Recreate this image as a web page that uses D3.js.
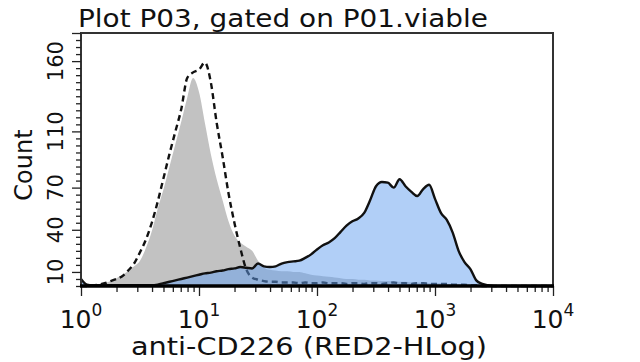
<!DOCTYPE html>
<html><head><meta charset="utf-8">
<script src="https://cdn.jsdelivr.net/npm/d3@7"></script>
<style>body{margin:0;background:#fff} svg{display:block} text{font-family:"DejaVu Sans",Verdana,sans-serif;fill:#111}</style>
</head><body><svg id="c" width="640" height="362"></svg>
<script>
// bin centres, log10 of RED2-HLog intensity
const binLog = [0.00,0.05,0.10,0.15,0.20,0.25,0.30,0.35,0.40,0.45,0.50,0.55,0.60,0.65,0.70,0.75,0.80,0.85,0.90,0.95,
1.00,1.05,1.10,1.15,1.20,1.25,1.30,1.35,1.40,1.45,1.50,1.55,1.60,1.65,1.70,1.75,1.80,1.85,1.90,1.95,
2.00,2.05,2.10,2.15,2.20,2.25,2.30,2.35,2.40,2.45,2.50,2.55,2.60,2.65,2.70,2.75,2.80,2.85,2.90,2.95,
3.00,3.05,3.10,3.15,3.20,3.25,3.30,3.35,3.40,3.45,3.50,3.55,3.60,3.65,3.70,3.75,3.80,3.85,3.90,3.95,4.00];
// grey filled control histogram
const controlFilled = [3,1.5,1,1.5,2,3.5,5.5,8,10.5,14,18,27,39,55,69,85,101,117,134,148,
138,116,94,76,61,46,36,31,28,25,18,13,11.5,11,10.5,10.5,10,10,9,8,
7.5,7,6.5,6,5.5,5,5,4.5,4.5,4,4,3.5,3.5,3,3,3,2.5,2.5,2.5,2,
2,2,1.5,1.5,1.5,1,1,0.5,0.5,0,0,0,0,0,0,0,0,0,0,0,0];
// dashed outline control histogram
const controlDashed = [0,0,0.5,1,2,3.5,5,7,11,16,24,33,45,60,77,94,110,126,148,152,
154,159,145,116,92,66,45,27,12,6,4.5,3.5,3,3,2.5,2.5,2.5,2,2.5,2,
2,2.5,2,2,2,1.5,2,2,1.5,2,2,1.5,2,2.5,2,2,1.5,2,2,1.5,
1.5,1.5,1.5,1,1,1,0.5,0.5,0,0,0,0,0,0,0,0,0,0,0,0,0];
// anti-CD226 stained histogram (blue, solid outline)
const stained = [5,1,0.5,0.5,0.5,0.5,0.5,0.5,0.5,0.5,0.5,0.5,0.5,1,2,3,4,5,6,7,
8,9,9.5,10.5,11,12,12.5,13.5,13,12.5,16,14,13.5,14,16,17,17.5,18,20,22.5,
26,29,31,34,38.5,43,46,48,52,61,71,74,73.5,70,76,71,67,64,69,72,
62,52,47,38,25,17,12,4,1.5,0.5,0,0,0,0,0,0,0,0,0,0,0];
const yTickLabels = [10,40,70,110,160];
const xTickExponents = [0,1,2,3,4];
const title = "Plot P03, gated on P01.viable";
const xTitle = "anti-CD226 (RED2-HLog)";
const yTitle = "Count";

const m = {l:81, r:553, t:33, b:286};
const svg = d3.select("#c");
const x = d3.scaleLog().domain([1,1e4]).range([m.l,m.r]);
const y = d3.scaleLinear().domain([0,180]).range([m.b,m.t]);

const mk = arr => arr.map((v,i)=>({x:Math.pow(10,binLog[i]), y:v}));
const area = d3.area().x(d=>x(d.x)).y0(y(0)).y1(d=>y(d.y)).curve(d3.curveMonotoneX);
const line = d3.line().x(d=>x(d.x)).y(d=>y(d.y)).curve(d3.curveMonotoneX);

const g = svg.append("g");
g.append("path").datum(mk(controlFilled)).attr("d",area).attr("fill","#c2c2c2");
g.append("path").datum(mk(controlDashed)).attr("d",line).attr("fill","none")
  .attr("stroke","#111").attr("stroke-width",2.4).attr("stroke-dasharray","6,4");
g.append("path").datum(mk(stained)).attr("d",area).attr("fill","rgba(100,160,240,0.5)");
g.append("path").datum(mk(stained)).attr("d",line).attr("fill","none")
  .attr("stroke","#111").attr("stroke-width",2.4);

// frame
svg.append("path").attr("d",`M${m.l},${m.b}V${m.t}H${m.r}V${m.b}`)
  .attr("fill","none").attr("stroke","#333").attr("stroke-width",2);

// y axis
const yAxis = svg.append("g").attr("transform",`translate(${m.l},0)`)
  .call(d3.axisLeft(y).tickValues(d3.range(0,181,5)).tickSize(5).tickFormat(""));
yAxis.select(".domain").remove();
yAxis.selectAll(".tick line").attr("stroke","#222").attr("stroke-width",1.3);
yAxis.selectAll(".tick").filter(d=>yTickLabels.includes(d)||d===180).select("line").attr("x2",-9);
yTickLabels.forEach(v=>{
  svg.append("text").attr("transform",`translate(63,${y(v)}) rotate(-90)`)
    .attr("text-anchor","middle").attr("font-size",21).text(v);
});

// x axis
const xAxis = svg.append("g").attr("transform",`translate(0,${m.b})`)
  .call(d3.axisBottom(x).tickValues(x.ticks()).tickSize(6).tickFormat(""));
xAxis.select(".domain").remove();
xAxis.selectAll(".tick line").attr("stroke","#222").attr("stroke-width",1.3);
xAxis.selectAll(".tick").filter(d=>Math.abs(Math.log10(d)-Math.round(Math.log10(d)))<1e-9).select("line").attr("y2",10);
svg.append("line").attr("x1",m.l-1).attr("x2",m.r+1).attr("y1",m.b).attr("y2",m.b)
  .attr("stroke","#000").attr("stroke-width",3.5);
xTickExponents.forEach(e=>{
  const t = svg.append("text").attr("x",x(Math.pow(10,e))).attr("y",328)
    .attr("text-anchor","middle").attr("font-size",25);
  t.append("tspan").text("10");
  t.append("tspan").attr("font-size",17).attr("dy",-12).text(e);
});

// titles
svg.append("text").attr("x",78).attr("y",27).attr("font-size",25)
  .attr("textLength",410).attr("lengthAdjust","spacingAndGlyphs").text(title);
svg.append("text").attr("x",131).attr("y",355).attr("font-size",24)
  .attr("textLength",356).attr("lengthAdjust","spacingAndGlyphs").text(xTitle);
svg.append("text").attr("transform","translate(32,165) rotate(-90)").attr("text-anchor","middle")
  .attr("font-size",24).text(yTitle);
</script></body></html>
